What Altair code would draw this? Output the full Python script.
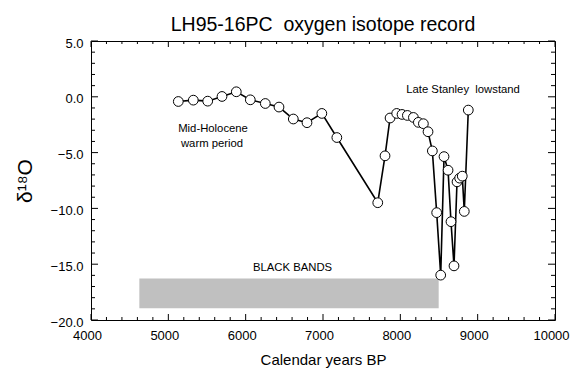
import altair as alt
import pandas as pd

# ---- data ----
years = [5129, 5323, 5509, 5694, 5879, 6060, 6254, 6431, 6616, 6793, 6985, 7179,
         7708, 7802, 7867, 7953, 8022, 8091, 8169, 8233, 8298, 8358, 8414, 8470,
         8522, 8565, 8617, 8655, 8694, 8733, 8767, 8801, 8827, 8879]
d18o = [-0.42, -0.30, -0.39, 0.03, 0.45, -0.27, -0.60, -0.92, -1.99, -2.32, -1.49, -3.65,
        -9.49, -5.29, -1.90, -1.49, -1.58, -1.67, -1.85, -2.29, -2.41, -3.13, -4.85, -10.38,
        -15.98, -5.36, -6.58, -11.19, -15.15, -7.62, -7.29, -7.11, -10.27, -1.19]

band_start = [4625]
band_end = [8496]
band_top = [-16.28]
band_bottom = [-18.95]

note_text = ["Mid-Holocene", "warm period", "Late Stanley\u00a0 lowstand", "BLACK BANDS"]
note_x = [5578, 5565, 8811, 6606]
note_y = [-2.86, -4.20, 0.60, -15.36]

title_text = ["LH95-16PC\u00a0 oxygen isotope record"]

x_major = [4000, 5000, 6000, 7000, 8000, 9000, 10000]
x_minor = [v for v in range(4000, 10001, 200) if v % 1000 != 0]
y_major = [-20, -15, -10, -5, 0, 5]
y_minor = [v for v in range(-20, 6) if v % 5 != 0]

W, H = 464, 279
FONT = "Liberation Sans"

df = pd.DataFrame({"year": years, "d18o": d18o, "order": list(range(len(years)))})
band_df = pd.DataFrame({"x1": band_start, "x2": band_end, "y1": band_top, "y2": band_bottom})
note_df = pd.DataFrame({"text": note_text, "x": note_x, "y": note_y})
title_df = pd.DataFrame({"text": title_text})

xscale = alt.Scale(domain=[4000, 10000], nice=False, zero=False)
yscale = alt.Scale(domain=[-20, 5], nice=False, zero=False)

# band layer carries the labelled axes
band = alt.Chart(band_df).mark_rect(color="#c0c0c0").encode(
    x=alt.X("x1:Q", scale=xscale, axis=alt.Axis(
        orient="bottom", values=x_major, format="d", ticks=False, domain=False, grid=False,
        labelFontSize=13, labelPadding=9, labelOffset=-4, labelFlush=False,
        labelOverlap=False, labelColor="black",
        title="Calendar years BP", titleFontSize=15, titleFontWeight="normal",
        titlePadding=10, titleColor="black")),
    x2="x2:Q",
    y=alt.Y("y1:Q", scale=yscale, axis=alt.Axis(
        orient="left", values=y_major, format=".1f", ticks=False, domain=False, grid=False,
        labelFontSize=13, labelPadding=8, labelOffset=2, labelFlush=False,
        labelOverlap=False, labelColor="black",
        title="δ¹⁸O", titleFontSize=21, titleFontWeight="normal", titlePadding=15,
        titleColor="black")),
    y2="y2:Q",
)

# inward tick marks on all four sides, positioned by the shared scales
def xticks(values, length):
    d = pd.DataFrame({"v": values})
    base = alt.Chart(d).mark_rule(color="black", strokeWidth=1)
    enc_x = alt.X("v:Q", scale=xscale, axis=None)
    bottom = base.encode(x=enc_x, y=alt.value(H), y2=alt.value(H - length))
    top = base.encode(x=enc_x, y=alt.value(0), y2=alt.value(length))
    return [bottom, top]

def yticks(values, length):
    d = pd.DataFrame({"v": values})
    base = alt.Chart(d).mark_rule(color="black", strokeWidth=1)
    enc_y = alt.Y("v:Q", scale=yscale, axis=None)
    left = base.encode(y=enc_y, x=alt.value(0), x2=alt.value(length))
    right = base.encode(y=enc_y, x=alt.value(W), x2=alt.value(W - length))
    return [left, right]

tick_layers = xticks(x_major, 6) + xticks(x_minor, 3) + yticks(y_major, 7) + yticks(y_minor, 4)

line = alt.Chart(df).mark_line(color="black", strokeWidth=1.6).encode(
    x=alt.X("year:Q", scale=xscale, axis=None),
    y=alt.Y("d18o:Q", scale=yscale, axis=None),
    order="order:Q",
)

points = alt.Chart(df).mark_point(shape="circle", filled=True, fill="white", stroke="black",
                                  strokeWidth=1, size=95, opacity=1).encode(
    x=alt.X("year:Q", scale=xscale, axis=None),
    y=alt.Y("d18o:Q", scale=yscale, axis=None),
)

notes = alt.Chart(note_df).mark_text(fontSize=11.3, color="black", align="center",
                                     baseline="middle").encode(
    x=alt.X("x:Q", scale=xscale, axis=None),
    y=alt.Y("y:Q", scale=yscale, axis=None),
    text="text:N",
)

title = alt.Chart(title_df).mark_text(fontSize=19.5, color="black", align="center",
                                      baseline="alphabetic").encode(
    x=alt.value(W / 2), y=alt.value(-10), text="text:N",
)

chart = alt.layer(band, *tick_layers, line, points, notes, title).resolve_axis(
    x="independent", y="independent"
).properties(
    width=W, height=H,
    autosize="none",
    padding={"left": 91, "top": 41, "right": 16, "bottom": 48},
).configure(font=FONT).configure_view(stroke="black", strokeWidth=1)

chart.save("out.html", embed_options={"renderer": "svg", "actions": False})
